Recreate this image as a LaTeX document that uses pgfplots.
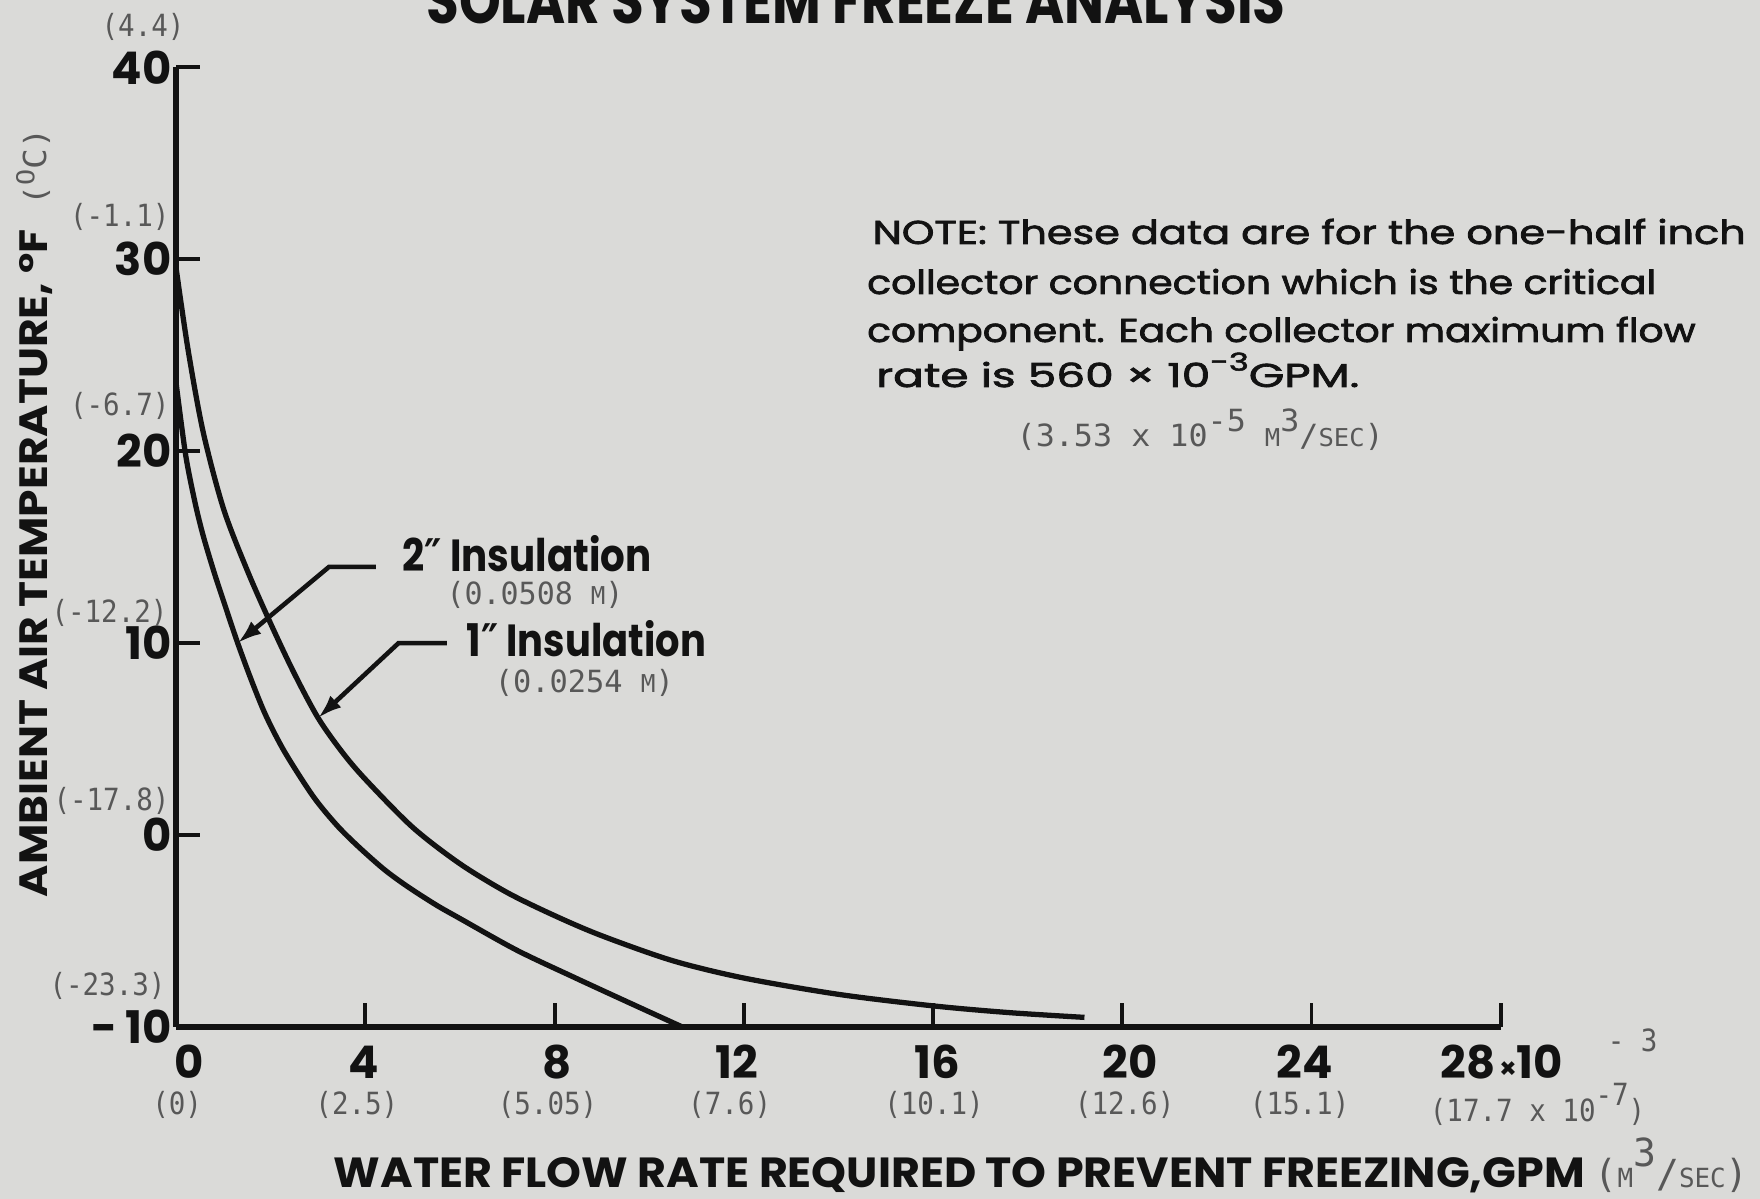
\documentclass[border=0pt]{standalone}
\usepackage{fontspec}
\usepackage{graphicx}
\usepackage{pgfplots}
\pgfplotsset{compat=1.18}
\usetikzlibrary{arrows.meta}
\setmainfont{Poppins}
\newfontfamily\pop{Poppins}
\newfontfamily\popm{Poppins}[FakeBold=2]
\newfontfamily\dv{DejaVu Sans}
\newfontfamily\mono{DejaVu Sans Mono}[FakeStretch=0.9]
\definecolor{bg}{RGB}{218,218,216}
\definecolor{ink}{RGB}{18,18,18}
\definecolor{gtxt}{RGB}{88,88,88}
\newcommand\bl{\pop\bfseries\fontsize{12.8pt}{14pt}\selectfont\color{ink}}
\newcommand\nt{\popm\fontsize{9.4pt}{11pt}\selectfont\color{ink}}
\newcommand\gm{\mono\fontsize{8.7pt}{10pt}\selectfont\color{gtxt}}
\newcommand\hs[2]{\resizebox{#1}{\height}{#2}}
\begin{document}
\begin{tikzpicture}
\path[use as bounding box, fill=bg] (0,0) rectangle (176mm,119.9mm);
% title (cut off at the top, as in the scan)
\node[anchor=base, inner sep=0pt] at (85.6mm,117.5mm)
  {\resizebox{85.9mm}{4.6mm}{\pop\bfseries\color{ink}SOLAR SYSTEM FREEZE ANALYSIS}};
% y axis label
\node[rotate=90, anchor=base west, inner sep=0pt] at (4.7mm,30.1mm)
  {\resizebox{66.8mm}{2.8mm}{\pop\bfseries\color{ink}AMBIENT AIR TEMPERATURE, °F}};
\node[rotate=90, anchor=base west, inner sep=0pt] at (4.6mm,99.3mm)
  {\hs{7.7mm}{\gm(\raisebox{0.7ex}{\scriptsize O}{\small C})}};
% x axis label
\node[anchor=base west, inner sep=0pt] at (33.3mm,1.1mm)
  {\resizebox{125.1mm}{3.0mm}{\pop\bfseries\color{ink}WATER FLOW RATE REQUIRED TO PREVENT FREEZING,GPM}};
\node[anchor=base west, inner sep=0pt] at (159.4mm,1.1mm)
  {\hs{15.4mm}{\mono\color{gtxt}\fontsize{11pt}{12pt}\selectfont({\fontsize{7.5pt}{8pt}\selectfont M}\raisebox{1.0ex}{3}/{\fontsize{7.5pt}{8pt}\selectfont SEC})}};
% note
\node[anchor=base west, inner sep=0pt] at (87.2mm,95.5mm) {\hs{87.3mm}{\nt NOTE: These data are for the one-half inch}};
\node[anchor=base west, inner sep=0pt] at (86.65mm,90.5mm) {\hs{78.9mm}{\nt collector connection which is the critical}};
\node[anchor=base west, inner sep=0pt] at (86.65mm,85.7mm) {\hs{82.85mm}{\nt component. Each collector maximum flow}};
\node[anchor=base west, inner sep=0pt] at (87.55mm,81.2mm) {\hs{48.3mm}{\nt rate is 560 × 10\raisebox{0.9ex}{\scriptsize -3}GPM.}};
\node[anchor=base west, inner sep=0pt] at (101.6mm,75.2mm) {\hs{36.7mm}{\gm(3.53 x 10\raisebox{0.9ex}{-5} {\scriptsize M}\raisebox{0.9ex}{3}/{\scriptsize SEC})}};
\begin{axis}[
  at={(17.62mm,17.2mm)}, anchor=south west,
  width=132.45mm, height=95.97mm, scale only axis,
  xmin=0, xmax=28, ymin=-10, ymax=40,
  axis lines=left,
  axis line style={-, line width=1.6pt, ink},
  xtick={0,4,...,28}, ytick={-10,0,10,20,30,40},
  xticklabels={},
  yticklabels={-\,10,0,10,20,30,40},
  tick align=inside,
  major tick length=2.4mm,
  tick style={line width=1.1pt, ink},
  /pgf/number format/assume math mode=true,
  yticklabel style={font=\bl, anchor=east, inner sep=0pt, xshift=-0.4mm},
  clip=false,
]
% 1" insulation (outer curve)
\addplot[ink, line width=1.5pt, smooth, tension=0.5] coordinates {
 (0,29.5) (0.25,25.3) (0.57,21.0) (1.0,17.0) (1.5,13.8) (2.0,11.0) (2.5,8.4)
 (3.0,6.1) (3.5,4.35) (4.0,2.9) (5.0,0.4) (6.0,-1.5) (7.0,-3.0) (8.0,-4.2)
 (9.0,-5.25) (10.5,-6.55) (12.0,-7.45) (14.0,-8.3) (16.0,-8.9) (17.6,-9.25) (19.2,-9.5)};
% 2" insulation (inner curve)
\addplot[ink, line width=1.5pt, smooth, tension=0.5] coordinates {
 (0,23.5) (0.2,19.8) (0.4,17.3) (0.57,15.6) (0.8,13.7) (1.0,12.2) (1.3,10.0)
 (1.6,8.0) (1.9,6.2) (2.3,4.3) (2.9,2.0) (3.4,0.5) (3.85,-0.6) (4.4,-1.8)
 (4.9,-2.7) (5.5,-3.65) (6.0,-4.35) (7.2,-6.0) (8.4,-7.4) (9.5,-8.65) (10.7,-10.0)};
% leaders
\draw[ink, line width=1.3pt, -{Latex[length=2.4mm,width=1.6mm]}]
  (axis cs:4.22,13.97) -- (axis cs:3.23,13.97) -- (axis cs:1.3,10.0);
\draw[ink, line width=1.3pt, -{Latex[length=2.4mm,width=1.6mm]}]
  (axis cs:5.72,10.0) -- (axis cs:4.70,10.0) -- (axis cs:3.0,6.1);
\node[anchor=base west, inner sep=0pt] at (axis cs:4.77,13.72) {\hs{24.9mm}{\bl 2{\dv\bfseries ″} Insulation}};
\node[anchor=base west, inner sep=0pt] at (axis cs:5.70,12.0) {\hs{17.7mm}{\gm(0.0508 {\scriptsize M})}};
\node[anchor=base west, inner sep=0pt] at (axis cs:6.13,9.29) {\hs{23.9mm}{\bl 1{\dv\bfseries ″} Insulation}};
\node[anchor=base west, inner sep=0pt] at (axis cs:6.72,7.42) {\hs{17.9mm}{\gm(0.0254 {\scriptsize M})}};
% Celsius labels of the y ticks
\node[anchor=base east, inner sep=0pt, xshift=0.9mm] at (axis cs:0,41.58) {\gm(4.4)};
\node[anchor=base east, inner sep=0pt, xshift=-0.6mm] at (axis cs:0,31.69) {\gm(-1.1)};
\node[anchor=base east, inner sep=0pt, xshift=-0.6mm] at (axis cs:0,21.87) {\gm(-6.7)};
\node[anchor=base east, inner sep=0pt, xshift=-0.8mm] at (axis cs:0,11.05) {\gm(-12.2)};
\node[anchor=base east, inner sep=0pt, xshift=-0.6mm] at (axis cs:0,1.28) {\gm(-17.8)};
\node[anchor=base east, inner sep=0pt, xshift=-1.0mm] at (axis cs:0,-8.37) {\gm(-23.3)};
% x tick labels (GPM)
\node[anchor=base, inner sep=0pt] at (axis cs:0.27,-12.7) {\bl 0};
\node[anchor=base, inner sep=0pt] at (axis cs:3.97,-12.7) {\bl 4};
\node[anchor=base, inner sep=0pt] at (axis cs:8.06,-12.7) {\bl 8};
\node[anchor=base, inner sep=0pt] at (axis cs:11.85,-12.7) {\bl 12};
\node[anchor=base, inner sep=0pt] at (axis cs:16.09,-12.7) {\bl 16};
\node[anchor=base, inner sep=0pt] at (axis cs:20.17,-12.7) {\bl 20};
\node[anchor=base, inner sep=0pt] at (axis cs:23.85,-12.7) {\bl 24};
\node[anchor=base, inner sep=0pt] at (axis cs:27.31,-12.7) {\bl 28};
\node[anchor=base west, inner sep=0pt] at (axis cs:27.95,-12.7) {\bl{\footnotesize ×}10};
\node[anchor=base west, inner sep=0pt] at (axis cs:30.25,-11.3) {\gm - 3};
% x tick labels (m3/sec)
\node[anchor=base, inner sep=0pt] at (axis cs:0.02,-14.57) {\gm(0)};
\node[anchor=base, inner sep=0pt] at (axis cs:3.82,-14.57) {\gm(2.5)};
\node[anchor=base, inner sep=0pt] at (axis cs:7.85,-14.57) {\gm(5.05)};
\node[anchor=base, inner sep=0pt] at (axis cs:11.70,-14.57) {\gm(7.6)};
\node[anchor=base, inner sep=0pt] at (axis cs:16.02,-14.57) {\gm(10.1)};
\node[anchor=base, inner sep=0pt] at (axis cs:20.05,-14.57) {\gm(12.6)};
\node[anchor=base, inner sep=0pt] at (axis cs:23.75,-14.57) {\gm(15.1)};
\node[anchor=base, inner sep=0pt] at (axis cs:28.78,-14.9) {\gm(17.7 x 10\raisebox{0.9ex}{-7})};
\end{axis}
\end{tikzpicture}
\end{document}
